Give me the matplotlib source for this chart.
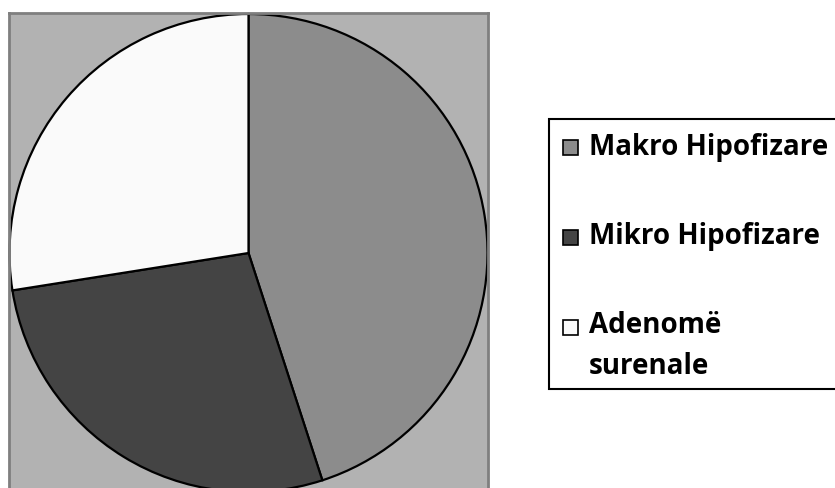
import matplotlib.pyplot as plt
from matplotlib.patches import Rectangle

# Të dhënat
labels = ['Makro Hipofizare', 'Mikro Hipofizare', 'Adenomë\nsurenale']
values = [18, 11, 11]
colors = ['#8c8c8c', '#444444', '#fafafa']

W, H = 835, 488
fig = plt.figure(figsize=(W / 100, H / 100), dpi=100)

# Zona e grafikut (sfond gri)
ax = fig.add_axes([9 / W, 0, 479 / W, 475 / H])
ax.set_facecolor('#b2b2b2')
ax.pie(values, colors=colors, startangle=90, counterclock=False, radius=239,
       wedgeprops=dict(edgecolor='black', linewidth=1.6), frame=True)
ax.set_xlim(-239.5, 239.5)
ax.set_ylim(-235, 240)
ax.set_aspect('auto')
ax.set_xticks([])
ax.set_yticks([])
for s in ['top', 'left', 'right']:
    ax.spines[s].set_color('#7f7f7f')
    ax.spines[s].set_linewidth(2)
ax.spines['bottom'].set_visible(False)

# Legjenda e vizatuar me dorë
def fx(x):
    return x / W

def fy(y):
    return 1 - y / H

fig.patches.append(Rectangle((fx(549), fy(389)), fx(320), 270 / H, transform=fig.transFigure,
                             facecolor='white', edgecolor='black', linewidth=1.5))
ys = [147, 237, 327]
for lab, col, y in zip(labels, colors, ys):
    fig.patches.append(Rectangle((fx(563), fy(y + 8)), 15 / W, 15 / H, transform=fig.transFigure,
                                 facecolor=col, edgecolor='black', linewidth=1.2))
    ty = y + 19 if '\n' in lab else y
    fig.text(fx(589), fy(ty), lab, ha='left', va='center',
             fontsize=20, fontweight='bold', family='Open Sans', linespacing=1.55)

plt.savefig('out.png', dpi=100)
